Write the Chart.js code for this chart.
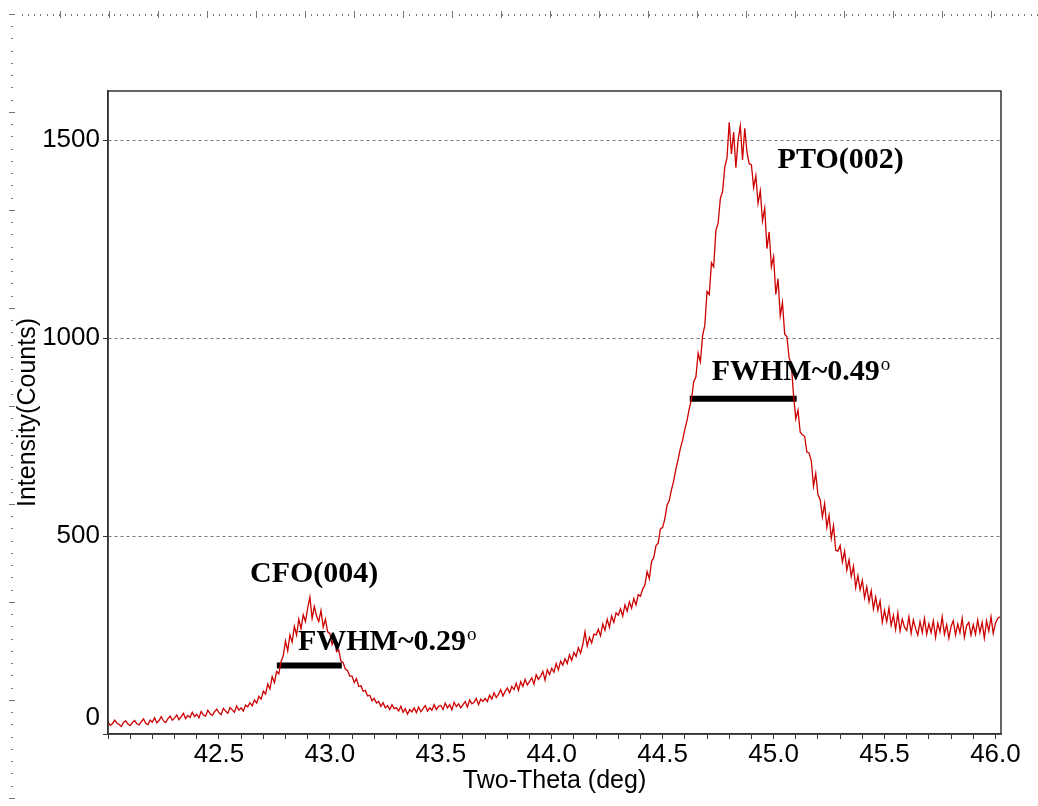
<!DOCTYPE html>
<html><head><meta charset="utf-8">
<script src="https://cdn.jsdelivr.net/npm/chart.js@4.4.0/dist/chart.umd.min.js"></script>
<style>html,body{margin:0;padding:0;background:#fff;overflow:hidden;}</style>
</head><body>
<canvas id="c" width="1038" height="806"></canvas>
<script>
// ---- data ----
const scanStart = 42.00;   // two-theta of first sample (deg)
const scanStep = 0.01;     // scan step (deg)
const intensity = [
 31,22,26,35,28,24,19,30,33,25,
 21,29,34,26,23,31,38,27,24,35,
 30,41,28,34,44,33,29,39,45,35,
 40,48,36,44,52,39,47,42,55,44,
 50,41,57,48,45,60,51,47,56,63,
 54,49,65,58,52,67,61,55,71,60,
 66,58,73,69,79,71,86,78,95,88,
 108,101,126,114,145,130,158,152,183,198,
 235,210,250,232,272,250,290,266,301,284,
 318,346,292,322,298,284,312,270,290,258,
 254,226,242,208,212,184,180,164,160,146,
 146,130,140,120,122,108,110,96,98,84,
 90,78,82,70,79,66,72,62,74,64,
 66,58,70,55,64,50,62,56,66,54,
 68,56,64,72,58,66,60,74,62,70,
 72,62,78,66,74,61,80,69,76,66,
 74,82,68,86,76,80,90,74,88,82,
 90,82,98,88,104,92,100,112,96,108,
 116,104,120,112,128,110,132,120,138,124,
 132,142,126,150,138,146,158,136,162,150,
 166,156,178,162,184,174,190,178,200,186,
 206,196,218,204,226,258,222,244,230,252,
 250,264,248,278,262,290,270,298,282,306,
 300,316,298,326,310,334,318,342,326,352,
 348,366,376,410,392,436,446,476,482,518,
 522,544,578,590,618,640,670,694,722,742,
 770,792,822,846,890,902,962,940,1006,1032,
 1118,1110,1190,1180,1272,1290,1352,1370,1432,1455,
 1545,1465,1520,1430,1500,1536,1450,1530,1470,1440,
 1438,1380,1410,1340,1372,1296,1328,1226,1268,1180,
 1206,1110,1150,1056,1090,1010,1004,950,932,856,
 796,818,762,756,752,712,710,690,626,658,
 604,592,548,582,522,552,494,526,464,462,
 476,434,462,414,440,398,424,370,400,364,
 388,344,372,334,362,316,346,312,336,282,
 312,284,318,274,300,264,306,260,290,270,
 262,296,254,288,266,250,284,256,292,252,
 278,256,286,244,280,258,296,252,276,242,
 272,286,250,278,256,292,244,274,282,250,
 276,252,288,256,282,242,286,260,296,254,
 280,292,296
];
const xTickLabels = ['42.5','43.0','43.5','44.0','44.5','45.0','45.5','46.0'];
const yTickValues = [0, 500, 1000, 1500];
const peakNames = ['CFO(004)', 'PTO(002)'];
const fwhmTexts = ['FWHM~0.29', 'FWHM~0.49'];
const fwhmStart = [42.761, 44.622];
const fwhmEnd   = [43.054, 45.104];
const fwhmLevel = [173, 847];

// ---- chart ----
const scanPoints = intensity.map((v, i) => ({x: +(scanStart + i * scanStep).toFixed(2), y: v}));
const barSets = fwhmLevel.map((lv, i) => ({
  data: [{x: fwhmStart[i], y: lv}, {x: fwhmEnd[i], y: lv}],
  borderColor: '#000', borderWidth: 6, pointRadius: 0, borderCapStyle: 'butt', tension: 0
}));

const SANS = '"Liberation Sans", Arial, sans-serif';
const SERIF = '"Liberation Serif", "Times New Roman", serif';

const decor = {
  id: 'decor',
  beforeDraw(chart) {
    const ctx = chart.ctx;
    ctx.save();
    ctx.fillStyle = '#fff'; ctx.fillRect(0, 0, chart.width, chart.height);
    ctx.fillStyle = '#777';
    for (let x = 22; x < 1038; x += 6.15) ctx.fillRect(Math.round(x), 14, 1, 2);
    for (let x = 60; x < 1038; x += 49) ctx.fillRect(Math.round(x), 11, 1, 7);
    for (let y = 26; y < 806; y += 12.25) ctx.fillRect(11, Math.round(y), 2, 1);
    for (let y = 14; y < 806; y += 98) ctx.fillRect(9, Math.round(y), 6, 1);
    ctx.restore();
  },
  afterDraw(chart) {
    const ctx = chart.ctx, a = chart.chartArea, xs = chart.scales.x, ys = chart.scales.y;
    ctx.save();
    ctx.strokeStyle = '#333'; ctx.lineWidth = 1.5;
    ctx.strokeRect(a.left, a.top, a.right - a.left, a.bottom - a.top);
    ctx.fillStyle = '#000'; ctx.font = '26px ' + SANS; ctx.textAlign = 'right'; ctx.textBaseline = 'middle';
    ctx.fillText('0', a.left - 8, ys.getPixelForValue(0) - 16);
    const anchors = chart.options.plugins.decor;
    ctx.textAlign = 'left'; ctx.textBaseline = 'alphabetic';
    peakNames.forEach((t, i) => {
      ctx.font = 'bold 30px ' + SERIF;
      ctx.fillText(t, xs.getPixelForValue(anchors.peak[i][0]), ys.getPixelForValue(anchors.peak[i][1]));
    });
    fwhmTexts.forEach((t, i) => {
      const px = xs.getPixelForValue(anchors.fwhm[i][0]), py = ys.getPixelForValue(anchors.fwhm[i][1]);
      ctx.font = 'bold 30px ' + SERIF;
      ctx.fillText(t, px, py);
      const w = ctx.measureText(t).width;
      ctx.font = '19px ' + SERIF;
      ctx.fillText('o', px + w + 1, py - 10);
    });
    ctx.restore();
  }
};

new Chart(document.getElementById('c'), {
  type: 'line',
  data: {
    datasets: [
      {data: scanPoints, borderColor: '#cc0000', borderWidth: 1.3, pointRadius: 0, tension: 0},
      ...barSets
    ]
  },
  options: {
    responsive: false, animation: false, devicePixelRatio: 1,
    layout: {padding: {top: 91, right: 37, left: 0, bottom: 0}},
    plugins: {
      legend: {display: false}, tooltip: {enabled: false},
      decor: {
        peak: [[42.640, 384], [45.018, 1429]],
        fwhm: [[42.856, 212], [44.721, 894]]
      }
    },
    scales: {
      x: {
        type: 'linear', min: 42.0, max: 46.025,
        afterFit(s) { s.height = 72; },
        afterBuildTicks(s) { const t = []; for (let k = 420; k <= 460; k++) t.push({value: k / 10}); s.ticks = t; },
        border: {display: true, color: '#333', width: 1.5},
        grid: {display: true, drawOnChartArea: false, drawTicks: true, tickLength: 5, color: '#333', lineWidth: 1},
        ticks: {
          autoSkip: false, maxRotation: 0, minRotation: 0, padding: 0, color: '#000',
          font: {family: SANS, size: 26},
          callback(v) { const s = (+v).toFixed(1); return xTickLabels.includes(s) ? s : ''; }
        },
        title: {display: true, text: 'Two-Theta (deg)', color: '#000', font: {family: SANS, size: 25}, padding: {top: 0, bottom: 10}}
      },
      y: {
        min: 0, max: 1624,
        afterFit(s) { s.width = 108; },
        afterBuildTicks(s) { s.ticks = yTickValues.map(v => ({value: v})); },
        border: {display: true, color: '#333', width: 1.5, dash: [3, 3]},
        grid: {
          display: true, drawOnChartArea: true, drawTicks: true, tickLength: 5,
          color: c => (c.tick && c.tick.value === 0) ? 'rgba(0,0,0,0)' : '#777',
          tickColor: '#333', lineWidth: 1
        },
        ticks: {
          padding: 3, color: '#000', font: {family: SANS, size: 26},
          callback(v) { return v === 0 ? '' : String(v); }
        },
        title: {display: true, text: 'Intensity(Counts)', color: '#000', font: {family: SANS, size: 25}, padding: {top: 13, bottom: 0}}
      }
    }
  },
  plugins: [decor]
});
</script>
</body></html>
